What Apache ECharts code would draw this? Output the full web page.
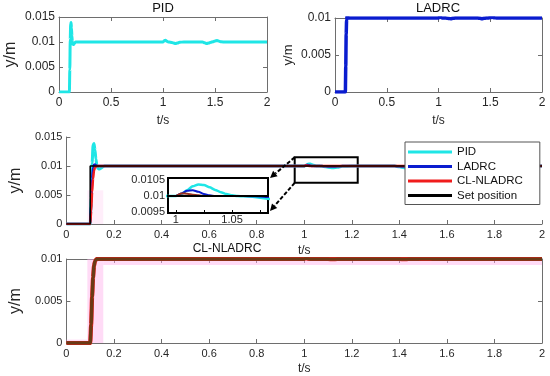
<!DOCTYPE html>
<html><head><meta charset="utf-8">
<script src="https://cdn.jsdelivr.net/npm/echarts@6/dist/echarts.min.js"></script>
<style>html,body{margin:0;padding:0;background:#fff}#c{width:550px;height:376px}</style>
</head><body><div id="c"></div>
<script>
// ---------------- data ----------------
const time = [0, 0.1, 0.104, 0.108, 0.112, 0.116, 0.12, 0.124, 0.128, 0.132, 0.136, 0.14, 0.145, 0.15, 0.155, 0.16, 0.17, 0.18, 0.2, 0.5,
  0.99, 0.995, 1.0, 1.005, 1.01, 1.015, 1.02, 1.025, 1.03, 1.035, 1.04, 1.045, 1.05, 1.055, 1.06, 1.07, 1.08, 1.1, 1.12, 1.14, 1.16, 1.2,
  1.38, 1.4, 1.42, 1.44, 1.46, 1.48, 1.5, 1.52, 1.54, 1.56, 1.6, 2.0];
const pidY = [0, 0, 0.0045, 0.0105, 0.0136, 0.0139, 0.0128, 0.0112, 0.0101, 0.0096, 0.0095, 0.0095, 0.0096, 0.0098, 0.0099, 0.01, 0.01, 0.01, 0.01, 0.01,
  0.01, 0.01, 0.01, 0.01006, 0.01018, 0.0103, 0.01036, 0.01034, 0.01027, 0.01019, 0.01012, 0.01006, 0.01002, 0.01, 0.00999, 0.00997, 0.00992, 0.0098, 0.0097, 0.00978, 0.00995, 0.01,
  0.01, 0.00985, 0.0097, 0.0098, 0.00995, 0.01005, 0.0102, 0.01028, 0.01015, 0.01003, 0.01, 0.01];
const ladrcY = [0, 0, 0.0035, 0.0078, 0.0097, 0.01022, 0.01024, 0.01012, 0.01004, 0.01, 0.01, 0.01, 0.01, 0.01, 0.01, 0.01, 0.01, 0.01, 0.01, 0.01,
  0.01, 0.01, 0.01, 0.01008, 0.01016, 0.01018, 0.01013, 0.01006, 0.01002, 0.01, 0.01, 0.01, 0.01, 0.01, 0.01, 0.00999, 0.00997, 0.00993, 0.0099, 0.00995, 0.01, 0.01,
  0.01, 0.00995, 0.0099, 0.00995, 0.01, 0.01, 0.01006, 0.0101, 0.01003, 0.01, 0.01, 0.01];
const nladrcY = [0, 0, 0.0022, 0.0055, 0.0078, 0.0092, 0.0097, 0.0099, 0.01, 0.01, 0.01, 0.01, 0.01, 0.01, 0.01, 0.01, 0.01, 0.01, 0.01, 0.01,
  0.01, 0.01, 0.01, 0.01008, 0.01007, 0.01004, 0.01002, 0.01, 0.01, 0.01, 0.01, 0.01, 0.01, 0.01, 0.01, 0.01, 0.01, 0.01, 0.00998, 0.01, 0.01, 0.01,
  0.01, 0.01, 0.00998, 0.01, 0.01, 0.01, 0.01002, 0.01002, 0.01, 0.01, 0.01, 0.01];
const setT = [0, 0.1, 2];
const setY = [0, 0.01, 0.01];
// shaded band pieces in the bottom panel: [t0, t1] x [y0, y1]
const bandT0 = [0, 0.088, 0.155];
const bandT1 = [0.088, 0.155, 2];
const bandY0 = [0, 0, 0.0093];
const bandY1 = [0.0004, 0.01, 0.01];
// faint shaded piece in the middle panel
const midBandT0 = [0.088];
const midBandT1 = [0.155];
const midBandY0 = [0];
const midBandY1 = [0.0058];
const zoomBoxT = [0.96, 1.225];
const zoomBoxY = [0.0071, 0.0115];
const insetT = [0.993, 1.082];
const insetY = [0.00947, 0.01056];
const insetXLabels = [1, 1.05];
const insetXTicks = [1, 1.025, 1.05, 1.075];
const insetYLabels = [0.0095, 0.01, 0.0105];
const legendNames = ['PID', 'LADRC', 'CL-NLADRC', 'Set position'];
const titles = ['PID', 'LADRC', 'CL-NLADRC'];
const axisNameX = 't/s';
const axisNameY = 'y/m';

// ---------------- style ----------------
const FF = 'Liberation Sans, Arial, Helvetica, sans-serif';
const AX = '#6e6e6e';
const TXT = '#262626';
const C_PID = '#1fe6e6', C_LAD = '#0a1ccf', C_NL = '#f01c1c', C_SET = '#000000', C_BROWN = '#6a3a16';

const pairs = (xs, ys) => xs.map((x, i) => [x, ys[i]]);
const rects = (t0, t1, y0, y1) => t0.map((t, i) => [{coord: [t, y0[i]]}, {coord: [t1[i], y1[i]]}]);

const grids = [
  {left: 59, top: 17, width: 208, height: 75},
  {left: 335, top: 18, width: 207, height: 74},
  {left: 59, top: 137, width: 483, height: 87},
  {left: 59, top: 259, width: 483, height: 87},
  {left: 168, top: 178, width: 100, height: 35, show: true, backgroundColor: '#fff', borderColor: '#000', borderWidth: 2}
];

function xMain(g, interval, fs, nameGap) {
  return {type: 'value', gridIndex: g, min: 0, max: 2, interval: interval, position: 'bottom',
    axisLine: {onZero: false, lineStyle: {color: AX, width: 1}},
    axisTick: {inside: true, length: 4, lineStyle: {color: AX}},
    axisLabel: {color: TXT, fontSize: fs, margin: 5, fontFamily: FF},
    splitLine: {show: false},
    name: axisNameX, nameLocation: 'middle', nameGap: nameGap,
    nameTextStyle: {color: TXT, fontSize: 12, fontFamily: FF}};
}
function yMain(g, max, fs, nameFs, nameGap) {
  return {type: 'value', gridIndex: g, min: 0, max: max, interval: 0.005, position: 'left',
    axisLine: {onZero: false, lineStyle: {color: AX, width: 1}},
    axisTick: {inside: true, length: 4, lineStyle: {color: AX}},
    axisLabel: {color: TXT, fontSize: fs, margin: 4, fontFamily: FF},
    splitLine: {show: false},
    name: axisNameY, nameLocation: 'middle', nameGap: nameGap, nameRotate: 90,
    nameTextStyle: {color: TXT, fontSize: nameFs, fontFamily: FF}};
}
function xMirror(g, interval) {
  return {type: 'value', gridIndex: g, min: 0, max: 2, interval: interval, position: 'top',
    axisLine: {onZero: false, lineStyle: {color: AX, width: 1}},
    axisTick: {inside: true, length: 4, lineStyle: {color: AX}},
    axisLabel: {show: false}, splitLine: {show: false}};
}
function yMirror(g, max) {
  return {type: 'value', gridIndex: g, min: 0, max: max, interval: 0.005, position: 'right',
    axisLine: {onZero: false, lineStyle: {color: AX, width: 1}},
    axisTick: {inside: true, length: 4, lineStyle: {color: AX}},
    axisLabel: {show: false}, splitLine: {show: false}};
}

const xAxis = [
  xMain(0, 0.5, 12, 23),
  xMain(1, 0.5, 12, 23),
  xMain(2, 0.2, 11, 21),
  xMain(3, 0.2, 11, 20),
  {type: 'value', gridIndex: 4, min: insetT[0], max: insetT[1], position: 'bottom',
    axisLine: {show: false},
    axisTick: {inside: true, length: 3, customValues: insetXTicks, lineStyle: {color: '#000'}},
    axisLabel: {customValues: insetXLabels, color: TXT, fontSize: 11, margin: 1, fontFamily: FF},
    splitLine: {show: false}},
  xMirror(0, 0.5), xMirror(1, 0.5), xMirror(3, 0.2)
];
const yAxis = [
  yMain(0, 0.015, 12, 16, 40),
  yMain(1, 0.01, 12, 13, 40),
  yMain(2, 0.015, 11, 16, 39),
  yMain(3, 0.01, 11, 16, 39),
  {type: 'value', gridIndex: 4, min: insetY[0], max: insetY[1], position: 'left',
    axisLine: {show: false},
    axisTick: {show: false, customValues: insetYLabels},
    axisLabel: {customValues: insetYLabels, color: TXT, fontSize: 11, margin: 3, fontFamily: FF},
    splitLine: {show: false}},
  yMirror(0, 0.015), yMirror(1, 0.01), yMirror(3, 0.01)
];

function line(name, xi, yi, xs, ys, color, width, extra) {
  return Object.assign({type: 'line', name: name, xAxisIndex: xi, yAxisIndex: yi, data: pairs(xs, ys),
    showSymbol: false, symbol: 'none', color: color, lineStyle: {color: color, width: width},
    smooth: 0.25, smoothMonotone: 'x', animation: false, silent: true}, extra || {});
}

const series = [
  line('PID', 0, 0, time, pidY, C_PID, 3),
  line('LADRC', 1, 1, time, ladrcY, C_LAD, 3.5),
  line('PID', 2, 2, time, pidY, C_PID, 3, {
    markArea: {silent: true, itemStyle: {color: 'rgba(255,200,240,0.3)'},
      data: rects(midBandT0, midBandT1, midBandY0, midBandY1)}}),
  line('LADRC', 2, 2, time, ladrcY, C_LAD, 2.5),
  line('CL-NLADRC', 2, 2, time, nladrcY, C_NL, 2.5),
  line('Set position', 2, 2, setT, setY, C_SET, 1.6, {smooth: false, step: 'end',
    markArea: {silent: true, itemStyle: {color: 'rgba(0,0,0,0)', borderColor: '#000', borderWidth: 2},
      data: [[{coord: [zoomBoxT[0], zoomBoxY[0]]}, {coord: [zoomBoxT[1], zoomBoxY[1]]}]]}}),
  line('nl-red', 3, 3, time, nladrcY, C_NL, 4.2, {
    markArea: {silent: true, itemStyle: {color: 'rgba(255,175,235,0.45)'},
      data: rects(bandT0, bandT1, bandY0, bandY1)}}),
  line('nl-brown', 3, 3, time, nladrcY, C_BROWN, 3.4),
  line('PID', 4, 4, time, pidY, C_PID, 2.5),
  line('LADRC', 4, 4, time, ladrcY, C_LAD, 2),
  line('CL-NLADRC', 4, 4, time, nladrcY, '#9a3020', 2),
  line('Set position', 4, 4, setT, setY, C_SET, 2, {smooth: false, step: 'end'})
];

const titleEls = [
  {id: 't0', type: 'text', x: 163, y: 8, z: 20, style: {text: titles[0], fontSize: 13, fontFamily: FF, fill: '#111', align: 'center', verticalAlign: 'middle'}},
  {id: 't1', type: 'text', x: 438, y: 8, z: 20, style: {text: titles[1], fontSize: 13, fontFamily: FF, fill: '#111', align: 'center', verticalAlign: 'middle'}},
  {id: 't2', type: 'text', x: 227, y: 249, z: 20, style: {text: titles[2], fontSize: 12, fontFamily: FF, fill: '#111', align: 'center', verticalAlign: 'middle'}}
];

const option = {
  backgroundColor: '#fff',
  animation: false,
  grid: grids,
  xAxis: xAxis,
  yAxis: yAxis,
  legend: {data: legendNames, orient: 'vertical', left: 405, top: 142, selectedMode: false,
    icon: 'rect', itemWidth: 44, itemHeight: 3, itemGap: 2.5,
    padding: [4, 17, 3, 3], borderColor: '#555', borderWidth: 1, backgroundColor: '#fff',
    textStyle: {fontSize: 11.5, color: '#111', fontFamily: FF}},
  series: series,
  graphic: titleEls
};

const chart = echarts.init(document.getElementById('c'), null, {renderer: 'canvas'});
chart.setOption(option);

function arrow(id, p, q) {
  const dx = q[0] - p[0], dy = q[1] - p[1], L = Math.hypot(dx, dy), ux = dx / L, uy = dy / L;
  const hl = 7, hw = 3.5;
  const bx = q[0] - ux * hl, by = q[1] - uy * hl;
  return [
    {id: id + 'l', type: 'line', z: 20, shape: {x1: p[0], y1: p[1], x2: bx, y2: by}, style: {stroke: '#000', lineWidth: 2, lineDash: [4, 2]}},
    {id: id + 'h', type: 'polygon', z: 20, shape: {points: [[q[0], q[1]], [bx - uy * hw, by + ux * hw], [bx + uy * hw, by - ux * hw]]}, style: {fill: '#000'}}
  ];
}
const zTL = chart.convertToPixel({gridIndex: 2}, [zoomBoxT[0], zoomBoxY[1]]);
const zBL = chart.convertToPixel({gridIndex: 2}, [zoomBoxT[0], zoomBoxY[0]]);
const iTR = chart.convertToPixel({gridIndex: 4}, [insetT[1], insetY[1]]);
const iBR = chart.convertToPixel({gridIndex: 4}, [insetT[1], insetY[0]]);
chart.setOption({graphic: titleEls.concat(arrow('a1', zTL, [iTR[0] + 2, iTR[1]]), arrow('a2', zBL, [iBR[0] + 2, iBR[1] - 2]))});
</script>
</body></html>
